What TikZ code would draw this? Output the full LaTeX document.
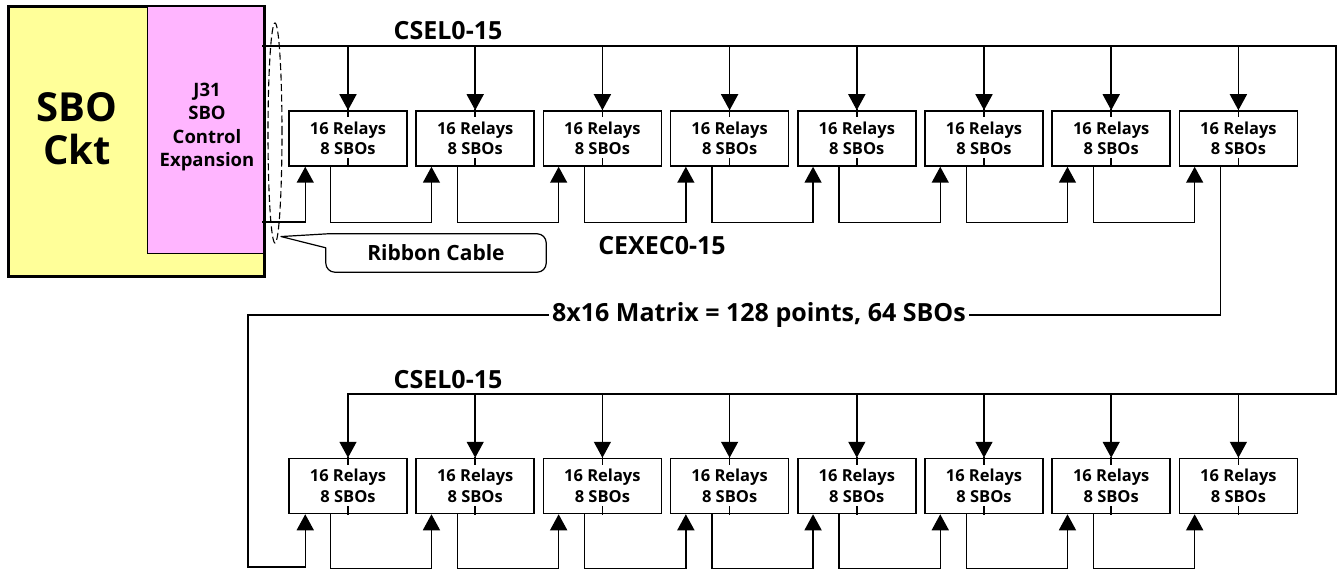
\documentclass[tikz,border=0pt]{standalone}
\usepackage{fontspec}
\setmainfont{Open Sans}
\usetikzlibrary{arrows.meta,calc,shapes.geometric}
\definecolor{sboyellow}{HTML}{FFFF99}
\definecolor{sbopink}{HTML}{FFB5FF}
\tikzset{
  wire/.style={line width=1.5pt, line cap=rect},
  arr/.style={wire, -{Triangle[length=16pt,width=17pt]}},
  relay/.style={draw, line width=1.5pt, minimum width=118pt, minimum height=55pt, inner sep=0pt, align=center, font=\fontsize{16.5}{20.5}\selectfont\bfseries},
  biglabel/.style={font=\fontsize{25}{29}\selectfont\bfseries, inner sep=1pt},
}
\begin{document}
\begin{tikzpicture}[x=1pt,y=-1pt]
\useasboundingbox (0,0) rectangle (1337,569);
% SBO circuit blocks
\node[draw, line width=1.8pt, fill=sboyellow, minimum width=255pt, minimum height=269pt, anchor=north west, inner sep=0pt] (ylw) at (8,6) {};
\node[draw, line width=1.4pt, fill=sbopink, minimum width=116pt, minimum height=247pt, anchor=north west, inner sep=0pt] (pink) at (147,6) {};
\draw[line width=1.8pt] (ylw.north west) rectangle (ylw.south east);
\node[align=center, font=\fontsize{40}{43}\selectfont\bfseries] (sbo) at (77,129) {SBO\\Ckt};
\node[align=center, font=\fontsize{18.5}{23.3}\selectfont\bfseries] (j31) at (207,127) {J31\\SBO\\Control\\Expansion};

% relay boxes
\foreach \i in {1,...,8} {
  \node[relay] (t\i) at ({289+59+127.2*(\i-1)},138.5) {16 Relays\\8 SBOs};
  \node[relay] (b\i) at ({289+59+127.2*(\i-1)},486) {16 Relays\\8 SBOs};
}

% coordinates of the buses
\coordinate (cselA) at (263,46);
\coordinate (cselR) at (1336,46);
\coordinate (cselR2) at (1336,394);
\coordinate (cexA) at (263,222);
\coordinate (m2) at (248,315);
\coordinate (m3) at (248,567);

% CSEL bus
\draw[wire] (cselA) -- (cselR) -- (cselR2);
\draw[arr] (cselR2) -| (b1.north);
\foreach \i in {1,...,8} {
  \draw[arr] (t\i.north |- cselA) -- (t\i.north);
  \draw[wire] (t\i.north) -- ++(0,6);
  \draw[wire] (t\i.south) -- ++(0,-8);
  \draw[wire] (b\i.north) -- ++(0,6);
  \draw[wire] (b\i.south) -- ++(0,-8);
}
\foreach \i in {2,...,8} {
  \draw[arr] (b\i.north |- cselR2) -- (b\i.north);
}

% CEXEC chain, top row
\draw[arr] (cexA) -| ($(t1.south west)+(17,0)$);
\foreach \i/\j in {1/2,2/3,3/4,4/5,5/6,6/7,7/8} {
  \draw[arr] ($(t\i.south west)+(42,0)$) |- ($(t\j.south west)+(16,56)$) -- ($(t\j.south west)+(16,0)$);
}
% link to bottom row
\draw[arr] ($(t8.south west)+(42,0)$) |- (m2) -- (m3) -| ($(b1.south west)+(17,0)$);
\foreach \i/\j in {1/2,2/3,3/4,4/5,5/6,6/7,7/8} {
  \draw[arr] ($(b\i.south west)+(42,0)$) |- ($(b\j.south west)+(16,54)$) -- ($(b\j.south west)+(16,0)$);
}

% labels
\node[biglabel] (csel1) at (448,31) {CSEL0-15};
\node[biglabel] (csel2) at (448,380) {CSEL0-15};
\node[biglabel] (cexec) at (662,246) {CEXEC0-15};
\node[biglabel, fill=white, inner xsep=3pt] (matrix) at (759,315) {8x16 Matrix = 128 points, 64 SBOs};

% ribbon cable
\node[draw, dash pattern=on 7pt off 3.5pt, line width=1.1pt, ellipse, minimum width=14pt, minimum height=220pt, inner sep=0pt] (rib) at (275,133) {};
\node[minimum width=220pt, minimum height=38pt, inner sep=0pt, font=\fontsize{21}{25}\selectfont\bfseries] (rc) at (436,253) {Ribbon Cable};
\draw[line width=1.2pt, line join=round] ($(rib.south)+(6,-7)$) -- ($(rc.north west)+(2,0)$) [rounded corners=9pt] -- (rc.north east) -- (rc.south east) -- (rc.south west) [sharp corners] -- ($(rc.north west)+(0,14)$) -- cycle;
\end{tikzpicture}
\end{document}
